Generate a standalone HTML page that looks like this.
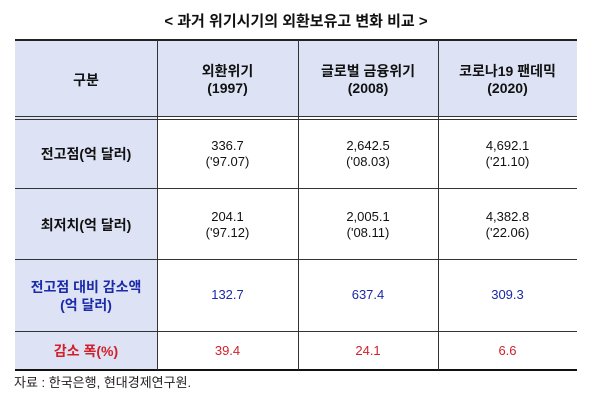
<!DOCTYPE html>
<html><head><meta charset="utf-8"><style>
body{margin:0;width:600px;height:412px;background:#fff;font-family:"Liberation Sans","Noto Sans CJK KR",sans-serif;position:relative;overflow:hidden}
.t{position:absolute;text-align:center;font-size:13px;line-height:16px;color:#111}
.h{position:absolute}
.b{font-weight:bold}
</style></head><body>
<div class="t b" style="left:0;width:592px;top:12px;font-size:15px;line-height:20px">&lt; 과거 위기시기의 외환보유고 변화 비교 &gt;</div>
<div class="h" style="left:15px;top:40px;width:562px;height:77px;background:#dde3f5"></div>
<div class="h" style="left:15px;top:117px;width:142px;height:253px;background:#dde3f5"></div>
<div class="h" style="left:15px;top:39px;width:562px;height:2px;background:#222"></div>
<div class="h" style="left:15px;top:116px;width:562px;height:1px;background:#333"></div>
<div class="h" style="left:15px;top:119px;width:562px;height:1px;background:#333"></div>
<div class="h" style="left:15px;top:188px;width:562px;height:1px;background:#333"></div>
<div class="h" style="left:15px;top:259px;width:562px;height:1px;background:#333"></div>
<div class="h" style="left:15px;top:331px;width:562px;height:1px;background:#333"></div>
<div class="h" style="left:15px;top:369px;width:562px;height:2px;background:#111"></div>
<div class="h" style="left:157px;top:40px;width:1px;height:330px;background:#333"></div>
<div class="h" style="left:298px;top:40px;width:1px;height:330px;background:#333"></div>
<div class="h" style="left:438px;top:40px;width:1px;height:330px;background:#333"></div>
<div class="t b" style="left:15px;width:142px;top:72px;font-size:14px">구분</div>
<div class="t b" style="left:157px;width:141px;top:63px;font-size:14px;line-height:17px">외환위기<br>(1997)</div>
<div class="t b" style="left:298px;width:140px;top:63px;font-size:14px;line-height:17px">글로벌 금융위기<br>(2008)</div>
<div class="t b" style="left:438px;width:139px;top:63px;font-size:14px;line-height:17px">코로나19 팬데믹<br>(2020)</div>
<div class="t b" style="left:15px;width:142px;top:146px;font-size:14px">전고점(억 달러)</div>
<div class="t" style="left:157px;width:141px;top:138px">336.7<br>('97.07)</div>
<div class="t" style="left:298px;width:140px;top:138px">2,642.5<br>('08.03)</div>
<div class="t" style="left:438px;width:139px;top:138px">4,692.1<br>('21.10)</div>
<div class="t b" style="left:15px;width:142px;top:217px;font-size:14px">최저치(억 달러)</div>
<div class="t" style="left:157px;width:141px;top:209px">204.1<br>('97.12)</div>
<div class="t" style="left:298px;width:140px;top:209px">2,005.1<br>('08.11)</div>
<div class="t" style="left:438px;width:139px;top:209px">4,382.8<br>('22.06)</div>
<div class="t b" style="left:15px;width:142px;top:278px;font-size:14px;color:#1a2aa8;line-height:18px">전고점 대비 감소액<br>(억 달러)</div>
<div class="t" style="left:157px;width:141px;top:287px;color:#1a2aa8">132.7</div>
<div class="t" style="left:298px;width:140px;top:287px;color:#1a2aa8">637.4</div>
<div class="t" style="left:438px;width:139px;top:287px;color:#1a2aa8">309.3</div>
<div class="t b" style="left:15px;width:142px;top:343px;font-size:14px;color:#d2202a">감소 폭(%)</div>
<div class="t" style="left:157px;width:141px;top:343px;color:#d2202a">39.4</div>
<div class="t" style="left:298px;width:140px;top:343px;color:#d2202a">24.1</div>
<div class="t" style="left:438px;width:139px;top:343px;color:#d2202a">6.6</div>
<div class="t" style="left:14px;top:375px;text-align:left;font-size:13px;color:#222">자료 : 한국은행, 현대경제연구원.</div>
</body></html>
